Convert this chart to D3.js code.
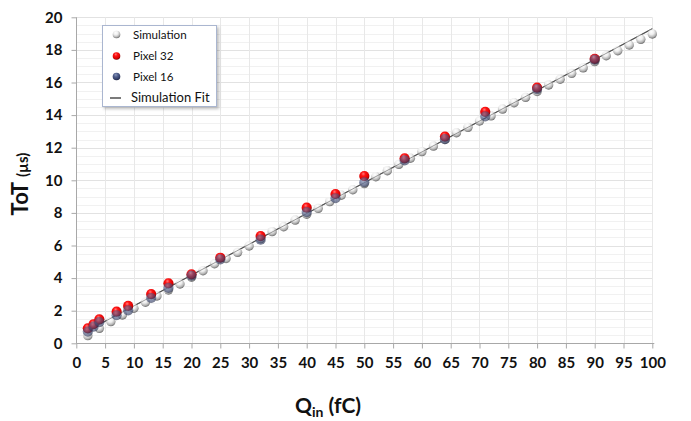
<!DOCTYPE html>
<html><head><meta charset="utf-8">
<script src="https://cdn.jsdelivr.net/npm/d3@7"></script>
<style>html,body{margin:0;padding:0;background:#fff;}svg{display:block;}</style>
</head><body>
<svg id="c" width="691" height="421"></svg>
<script>
// ---- data ----
const simQ = [2,4,6,8,10,12,14,16,18,20,22,24,26,28,30,32,34,36,38,40,42,44,46,48,50,52,54,56,58,60,62,64,66,68,70,72,74,76,78,80,82,84,86,88,90,92,94,96,98,100];
const simT = [0.47,0.92,1.33,1.74,2.15,2.52,2.90,3.27,3.64,4.05,4.45,4.88,5.20,5.58,5.97,6.42,6.85,7.15,7.56,7.92,8.28,8.69,9.08,9.42,9.80,10.22,10.59,10.98,11.35,11.76,12.10,12.50,12.92,13.25,13.64,13.95,14.37,14.76,15.09,15.45,15.85,16.20,16.56,16.90,17.28,17.64,17.95,18.30,18.65,18.98];
const pixQ = [2,3,4,7,9,13,16,20,25,32,40,45,50,57,64,71,80,90];
const pix32 = [0.92,1.17,1.47,1.94,2.29,3.02,3.68,4.23,5.25,6.58,8.32,9.16,10.26,11.35,12.68,14.20,15.68,17.45];
const pix16 = [0.72,1.02,1.30,1.72,2.02,2.78,3.40,4.15,5.15,6.36,8.05,8.90,9.88,11.22,12.52,13.92,15.60,17.40];
const fitQ = [2,100];
const fitT = [0.78,19.30];
const xTicks = [0,5,10,15,20,25,30,35,40,45,50,55,60,65,70,75,80,85,90,95,100];
const yTicks = [0,2,4,6,8,10,12,14,16,18,20];
const legendItems = ["Simulation","Pixel 32","Pixel 16","Simulation Fit"];

const svg = d3.select("#c");
const x = d3.scaleLinear().domain([0,100]).range([76.3,652.3]);
const y = d3.scaleLinear().domain([0,20]).range([343.3,17.3]);
const FONT = "Lato, 'Open Sans', sans-serif";

// gradients
const defs = svg.append("defs");
function grad(id, stops){
  const g = defs.append("radialGradient").attr("id",id).attr("cx","42%").attr("cy","32%").attr("r","70%").attr("fx","40%").attr("fy","28%");
  stops.forEach(s=>g.append("stop").attr("offset",s[0]).attr("stop-color",s[1]));
}
grad("gSim",[["0%","#ffffff"],["40%","#eeeeee"],["75%","#b4b4b4"],["100%","#656565"]]);
grad("gRed",[["0%","#ff7a7a"],["30%","#ff1414"],["75%","#d80000"],["100%","#6a0000"]]);
grad("gBlue",[["0%","#8a98bc"],["40%","#505f8c"],["80%","#323d66"],["100%","#1a213c"]]);
const shadow = defs.append("filter").attr("id","shd").attr("x","-20%").attr("y","-20%").attr("width","140%").attr("height","140%");
shadow.append("feDropShadow").attr("dx",2).attr("dy",2).attr("stdDeviation",1.5).attr("flood-color","#000").attr("flood-opacity",0.25);

// grid
const g = svg.append("g");
const minor = d3.range(0,20.01,0.5).filter(v=>Math.abs(v/2-Math.round(v/2))>1e-6);
g.selectAll(".mn").data(minor).join("line")
  .attr("x1",x(0)).attr("x2",x(100)).attr("y1",d=>Math.round(y(d))+0.5).attr("y2",d=>Math.round(y(d))+0.5)
  .attr("stroke","#f1f1f1").attr("stroke-width",1);
g.selectAll(".mj").data(yTicks.slice(1)).join("line")
  .attr("x1",x(0)).attr("x2",x(100)).attr("y1",d=>Math.round(y(d))+0.5).attr("y2",d=>Math.round(y(d))+0.5)
  .attr("stroke","#e2e2e2").attr("stroke-width",1);
g.selectAll(".vg").data(xTicks.slice(1)).join("line")
  .attr("x1",d=>Math.round(x(d))+0.5).attr("x2",d=>Math.round(x(d))+0.5).attr("y1",y(0)).attr("y2",y(20))
  .attr("stroke","#e8e8e8").attr("stroke-width",1);

// axes
const xAxis = d3.axisBottom(x).tickValues(xTicks).tickSize(5).tickPadding(9);
const yAxis = d3.axisLeft(y).tickValues(yTicks).tickSize(5).tickPadding(9);
const gx = svg.append("g").attr("transform",`translate(0,${Math.round(y(0))+0.5})`).call(xAxis);
const gy = svg.append("g").attr("transform",`translate(${Math.round(x(0))+0.5},0)`).call(yAxis);
[gx,gy].forEach(a=>{
  a.selectAll("path,line").attr("stroke","#a8a8a8");
  a.selectAll("text").attr("font-family",FONT).attr("font-weight","bold").attr("font-size",15).attr("fill","#111");
});
gy.select(".domain").attr("d",`M0,${y(0)}V${y(20)}`);
gx.select(".domain").attr("d",`M${x(0)},0H${x(100)+2}`);

const fitPath = d3.line().x(d=>x(d[0])).y(d=>y(d[1]));
const fitData = fitQ.map((q,i)=>[q,fitT[i]]);
svg.append("path").datum(fitData).attr("d",fitPath)
  .attr("stroke","#505050").attr("stroke-width",1.1).attr("fill","none");

const R = 4.7;
// simulation
svg.append("g").selectAll("circle").data(simQ.map((q,i)=>[q,simT[i]])).join("circle")
  .attr("cx",d=>x(d[0])).attr("cy",d=>y(d[1])).attr("r",R).attr("fill","url(#gSim)");
// fit line over sim, faint
svg.append("path").datum(fitData).attr("d",fitPath)
  .attr("stroke","#505050").attr("stroke-width",1).attr("stroke-opacity",0.55).attr("fill","none");
// pixel 32
svg.append("g").selectAll("circle").data(pixQ.map((q,i)=>[q,pix32[i]])).join("circle")
  .attr("cx",d=>x(d[0])).attr("cy",d=>y(d[1])).attr("r",R+0.4).attr("fill","url(#gRed)");
// pixel 16
svg.append("g").selectAll("circle").data(pixQ.map((q,i)=>[q,pix16[i]])).join("circle")
  .attr("cx",d=>x(d[0])).attr("cy",d=>y(d[1])).attr("r",R+0.4).attr("fill","url(#gBlue)").attr("fill-opacity",0.62);

// legend
const lg = svg.append("g");
lg.append("rect").attr("x",102.5).attr("y",25.5).attr("width",114).attr("height",81)
  .attr("fill","#fff").attr("stroke","#aab6d0").attr("stroke-width",1).attr("filter","url(#shd)");
const rows = [34.5,56,76.5,97.5];
const fills = ["url(#gSim)","url(#gRed)","url(#gBlue)"];
legendItems.forEach((t,i)=>{
  if(i<3){
    lg.append("circle").attr("cx",116.5).attr("cy",rows[i]).attr("r",3.8).attr("fill",fills[i]);
  } else {
    lg.append("line").attr("x1",110).attr("x2",121).attr("y1",rows[i]+0.5).attr("y2",rows[i]+0.5).attr("stroke","#333").attr("stroke-width",1.3);
  }
  lg.append("text").attr("x",i<3?133:131).attr("y",rows[i]).attr("dy","0.35em")
    .attr("font-family",FONT).attr("font-size",i<3?11.6:13).attr("fill","#111").text(t);
});

// axis titles
const yt = svg.append("text").attr("transform","translate(28,184) rotate(-90)").attr("text-anchor","middle")
  .attr("font-family",FONT).attr("font-weight","bold").attr("fill","#111");
yt.append("tspan").attr("font-size",22).text("ToT ");
yt.append("tspan").attr("font-size",15).text("(µs)");
const xt = svg.append("text").attr("x",328).attr("y",413).attr("text-anchor","middle")
  .attr("font-family",FONT).attr("font-weight","bold").attr("fill","#111").attr("font-size",21);
xt.append("tspan").text("Q");
xt.append("tspan").attr("font-size",14).attr("dy",4).text("in");
xt.append("tspan").attr("dy",-4).text(" (fC)");
</script>
</body></html>
